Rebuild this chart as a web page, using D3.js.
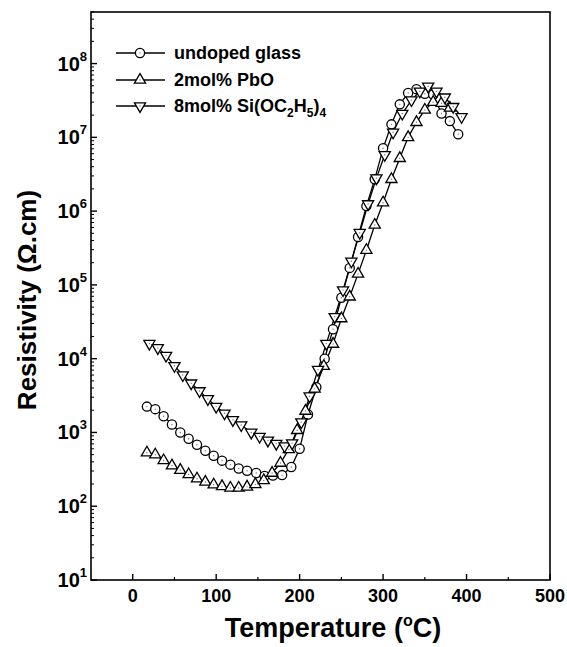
<!DOCTYPE html>
<html>
<head>
<meta charset="utf-8">
<script src="https://cdn.jsdelivr.net/npm/d3@7"></script>
<style>
html,body{margin:0;padding:0;background:#fff;}
svg{display:block;}
text{font-family:"Liberation Sans",Arial,Helvetica,sans-serif;font-weight:bold;fill:#000;}
</style>
</head>
<body>
<svg id="chart" width="567" height="647"></svg>
<script>
// ---- data ----
const seriesNames = ["undoped glass", "2mol% PbO", "8mol% Si(OC2H5)4"];

const tempUndoped = [17,27,37,47,57,67,77,87,97,107,117,127,137,148,158,168,179,190,200,210,220,230,240,250,260,270,280,290,300,310,320,330,340,350,360,370,380,390];
const resUndoped  = [2240,2070,1660,1280,1000,822,682,566,484,415,366,324,303,282,257,260,264,340,600,1750,4100,10000,25000,67000,170000,447000,1.17e6,2.7e6,7.1e6,1.5e7,2.8e7,4.0e7,4.5e7,3.9e7,3.8e7,2.1e7,1.66e7,1.1e7];

const tempPbO = [17,27,37,47,57,67,77,87,97,107,117,127,137,147,157,167,177,187,197,207,218,229,240,250,260,270,280,290,300,310,320,330,340,350,360,370,380];
const resPbO  = [532,500,417,355,309,270,236,213,196,186,177,177,183,198,224,282,385,590,1070,1950,3900,7900,15800,35000,69000,141000,295000,650000,1.3e6,2.7e6,5.2e6,1.0e7,1.6e7,2.35e7,3.0e7,2.9e7,2.5e7];

const tempSi = [20,30,40,50,60,70,80,90,100,110,120,130,142,152,162,172,182,191,202,212,222,232,242,252,262,272,282,292,302,312,323,334,344,354,364,374,384,394];
const resSi  = [16000,14000,11000,8000,6000,4650,3650,2850,2240,1820,1480,1260,1000,880,780,705,653,716,1380,3100,7100,16000,37000,85000,209000,510000,1.25e6,2.8e6,5.8e6,1.17e7,2.1e7,3.2e7,4.2e7,4.9e7,4.2e7,3.5e7,2.6e7,1.9e7];

const xTicks = [0,100,200,300,400,500];
const xMinorTicks = [50,150,250,350,450];
const yTickExps = [1,2,3,4,5,6,7,8];

// ---- layout ----
const svg = d3.select("#chart");
const L = 91, R = 550, T = 12, B = 580;
const x = d3.scaleLinear().domain([-50, 500]).range([L, R]);
const y = d3.scaleLog().domain([10, 5e8]).range([B, T]);

// frame
svg.append("rect").attr("x", L).attr("y", T).attr("width", R - L).attr("height", B - T)
  .attr("fill", "none").attr("stroke", "#000").attr("stroke-width", 1.6);

// x ticks (inward)
const gx = svg.append("g");
xTicks.forEach(v => {
  gx.append("line").attr("x1", x(v)).attr("x2", x(v)).attr("y1", B).attr("y2", B - 6)
    .attr("stroke", "#000").attr("stroke-width", 1.4);
  gx.append("text").attr("x", x(v)).attr("y", B + 22).attr("text-anchor", "middle")
    .attr("font-size", 18).text(v);
});
xMinorTicks.forEach(v => {
  gx.append("line").attr("x1", x(v)).attr("x2", x(v)).attr("y1", B).attr("y2", B - 3)
    .attr("stroke", "#000").attr("stroke-width", 1.2);
});

// y ticks (inward), log minors
const gy = svg.append("g");
const [y0, y1] = y.domain();
for (let e = 1; e <= 8; e++) {
  for (let m = 1; m <= 9; m++) {
    const v = m * Math.pow(10, e);
    if (v < y0 || v > y1) continue;
    const major = m === 1;
    gy.append("line").attr("x1", L).attr("x2", L + (major ? 6 : 3))
      .attr("y1", y(v)).attr("y2", y(v)).attr("stroke", "#000").attr("stroke-width", major ? 1.4 : 1);
  }
}
yTickExps.forEach(e => {
  const t = gy.append("text").attr("x", 87).attr("y", y(Math.pow(10, e)) + 7)
    .attr("text-anchor", "end").attr("font-size", 20);
  t.append("tspan").text("10");
  t.append("tspan").attr("font-size", 13).attr("dy", -10).text(e);
});

// axis titles
const xt = svg.append("text").attr("x", 333).attr("y", 637).attr("text-anchor", "middle").attr("font-size", 27);
xt.append("tspan").text("Temperature (");
xt.append("tspan").attr("font-size", 16).attr("dy", -11).text("o");
xt.append("tspan").attr("dy", 11).text("C)");

svg.append("text").attr("transform", "translate(36,300) rotate(-90)")
  .attr("text-anchor", "middle").attr("font-size", 26).text("Resistivity (Ω.cm)");

// series
const line = d3.line().x(d => x(d[0])).y(d => y(d[1]));
const series = [
  {name: seriesNames[0], t: tempUndoped, r: resUndoped, shape: "circle"},
  {name: seriesNames[1], t: tempPbO, r: resPbO, shape: "up"},
  {name: seriesNames[2], t: tempSi, r: resSi, shape: "down"}
];
const triSym = d3.symbol().type(d3.symbolTriangle).size(54);

function drawMarker(g, shape, cx, cy) {
  if (shape === "circle") {
    g.append("circle").attr("cx", cx).attr("cy", cy).attr("r", 4.6)
      .attr("fill", "#fff").attr("stroke", "#000").attr("stroke-width", 1.3);
  } else {
    g.append("path").attr("d", triSym())
      .attr("transform", `translate(${cx},${cy})` + (shape === "down" ? " rotate(180)" : ""))
      .attr("fill", "#fff").attr("stroke", "#000").attr("stroke-width", 1.3);
  }
  g.append("circle").attr("cx", cx).attr("cy", cy).attr("r", 0.7).attr("fill", "#777");
}

series.forEach(s => {
  const data = s.t.map((v, i) => [v, s.r[i]]);
  svg.append("path").datum(data).attr("d", line).attr("fill", "none")
    .attr("stroke", "#000").attr("stroke-width", 1.3);
});
series.forEach(s => {
  const g = svg.append("g");
  s.t.forEach((v, i) => drawMarker(g, s.shape, x(v), y(s.r[i])));
});

// legend
const legRows = [53, 80, 106];
series.forEach((s, i) => {
  const g = svg.append("g");
  g.append("line").attr("x1", 116).attr("x2", 165).attr("y1", legRows[i]).attr("y2", legRows[i])
    .attr("stroke", "#000").attr("stroke-width", 1.3);
  drawMarker(g, s.shape, 140, legRows[i]);
  const t = g.append("text").attr("x", 174).attr("y", legRows[i] + 6).attr("font-size", 18);
  if (i < 2) {
    t.text(s.name);
  } else {
    t.append("tspan").text("8mol% Si(OC");
    t.append("tspan").attr("font-size", 12).attr("dy", 5).text("2");
    t.append("tspan").attr("dy", -5).text("H");
    t.append("tspan").attr("font-size", 12).attr("dy", 5).text("5");
    t.append("tspan").attr("dy", -5).text(")");
    t.append("tspan").attr("font-size", 12).attr("dy", 5).text("4");
  }
});
</script>
</body>
</html>
